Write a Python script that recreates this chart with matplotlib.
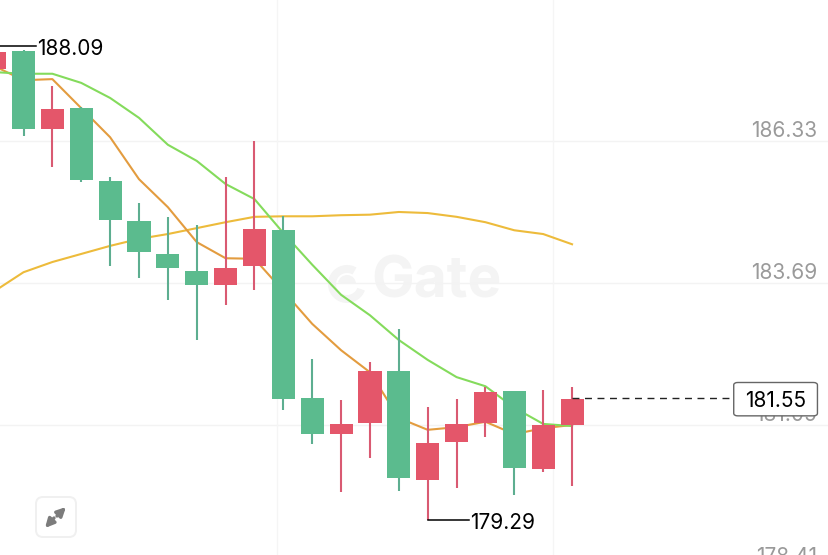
# candlestick chart with moving averages, gate style
import matplotlib
matplotlib.use('Agg')
import matplotlib.pyplot as plt
from matplotlib.patches import FancyBboxPatch, Wedge

plt.rcParams['font.family'] = ['Inter', 'DejaVu Sans']

candle_index = list(range(-1, 20))
opens = [187.67, 188.00, 186.55, 186.94, 185.59, 184.84, 184.23, 183.91, 183.65, 184.01, 184.67,
         181.55, 180.88, 181.09, 182.05, 180.03, 180.73, 181.09, 181.68, 180.23, 181.05]
closes = [187.98, 186.55, 186.92, 185.61, 184.86, 184.27, 183.97, 183.65, 183.97, 184.69, 181.53,
          180.88, 181.07, 182.05, 180.07, 180.715, 181.07, 181.66, 180.25, 181.05, 181.53]
highs = [188.09, 188.02, 187.35, 186.96, 185.66, 185.18, 184.92, 184.77, 185.66, 186.33, 184.93,
         182.28, 181.51, 182.22, 182.83, 181.38, 181.53, 181.76, 181.68, 181.70, 181.76]
lows = [187.60, 186.42, 185.85, 185.57, 184.01, 183.78, 183.37, 182.63, 183.28, 183.56, 181.33,
        180.70, 179.80, 180.44, 179.82, 179.29, 179.88, 180.83, 179.75, 180.18, 179.92]

ma_fast = [187.72, 187.46, 187.48, 186.94, 186.40, 185.62, 185.10, 184.45, 184.15, 184.14, 183.54,
           182.93, 182.44, 182.03, 181.18, 180.96, 181.01, 181.11, 180.88, 180.99, 181.05]
ma_mid = [187.61, 187.58, 187.58, 187.41, 187.13, 186.76, 186.26, 185.96, 185.53, 185.25, 184.62,
          184.03, 183.47, 183.09, 182.63, 182.26, 181.94, 181.77, 181.37, 181.07, 181.03]
ma_slow = [183.54, 183.89, 184.08, 184.23, 184.38, 184.51, 184.60, 184.71, 184.82, 184.92, 184.93,
           184.93, 184.95, 184.96, 185.01, 184.99, 184.92, 184.82, 184.67, 184.60, 184.41]

price_ticks = [186.33, 183.69, 181.05, 178.41]
grid_candles = [8.78, 18.34]
high_label = 188.09
low_label = 179.29
last_price = 181.55

up_color = '#E4566A'
down_color = '#5BBB8E'
up_wick = '#D95A72'
down_wick = '#5DAE90'

fig = plt.figure(figsize=(8.29, 5.55), dpi=100)
ax = fig.add_axes([0, 0, 1, 1])
ax.set_xlim(-0.814, 27.9)
ax.set_ylim(178.633, 188.951)
ax.axis('off')

for g in price_ticks:
    ax.axhline(g, color='#f3f3f3', lw=1, zorder=0)
for g in grid_candles:
    ax.axvline(g, color='#f5f5f5', lw=1, zorder=0)

# watermark, drawn in pixels on a second axes
over = fig.add_axes([0, 0, 1, 1], facecolor='none', zorder=0)
over.set_xlim(0, 829)
over.set_ylim(555, 0)
over.axis('off')
ax.set_zorder(1)
ax.patch.set_visible(False)
over.add_patch(Wedge((347, 284), 19, 20, 300, width=8, color='#f4f4f4', lw=0))
over.add_patch(Wedge((347, 284), 9, 190, 360, width=8, color='#f4f4f4', lw=0))
over.text(371, 283, 'Gate', fontsize=41, fontweight='bold', color='#f4f4f4', va='center', ha='left')

ax.plot(candle_index, ma_slow, color='#EDBB3B', lw=1.5, zorder=2)
ax.plot(candle_index, ma_fast, color='#E39C3F', lw=1.5, zorder=2)
ax.plot(candle_index, ma_mid, color='#84DB5C', lw=1.5, zorder=2)

for i, o, c, h, l in zip(candle_index, opens, closes, highs, lows):
    rising = c >= o
    ax.vlines(i, l, h, color=up_wick if rising else down_wick, lw=1.5, zorder=3)
    ax.bar(i, abs(c - o), bottom=min(o, c), width=0.8, color=up_color if rising else down_color, zorder=4)

for p in price_ticks:
    ax.annotate(f'{p:.2f}', xy=(1, p), xycoords=ax.get_yaxis_transform(), xytext=(-12, 0),
                textcoords='offset pixels', ha='right', va='bottom', fontsize=15, color='#9a9a9a', zorder=1)

# high and low markers
ax.plot([-1, 0.43], [high_label, high_label], color='black', lw=1.1, zorder=5)
ax.annotate(f'{high_label:.2f}', xy=(0.43, high_label), xytext=(1, -3), textcoords='offset pixels',
            ha='left', va='center', fontsize=15, color='black', zorder=6)
ax.plot([14, 15.42], [low_label, low_label], color='black', lw=1.1, zorder=5)
ax.annotate(f'{low_label:.2f}', xy=(15.42, low_label), xytext=(1, -3), textcoords='offset pixels',
            ha='left', va='center', fontsize=15, color='black', zorder=6)

# last price with dashed line and box
ax.plot([19, 24.57], [last_price, last_price], color='#222222', lw=1, dashes=(5, 4), zorder=5)
ax.add_patch(FancyBboxPatch((24.6, 181.22), 2.9, 0.62, boxstyle='round,pad=0,rounding_size=0.14',
                            mutation_aspect=0.35, fc='white', ec='#666666', lw=1, zorder=6))
ax.annotate(f'{last_price:.2f}', xy=(26.05, last_price), xytext=(0, -3), textcoords='offset pixels',
            ha='center', va='center', fontsize=15, color='black', zorder=7)

# expand button
top = fig.add_axes([0, 0, 1, 1], facecolor='none', zorder=5)
top.set_xlim(0, 829)
top.set_ylim(555, 0)
top.axis('off')
top.add_patch(FancyBboxPatch((36, 497), 40, 40, boxstyle='round,pad=0,rounding_size=7',
                             fc='white', ec='#f0f0f0', lw=1.4))
arrow = dict(arrowstyle='-|>', color='#7c7c7c', lw=2.4, mutation_scale=13, shrinkA=0, shrinkB=0)
top.annotate('', xy=(66, 507), xytext=(57, 516), arrowprops=arrow)
top.annotate('', xy=(45, 528), xytext=(54, 518), arrowprops=arrow)

fig.savefig('out.png', dpi=100)
